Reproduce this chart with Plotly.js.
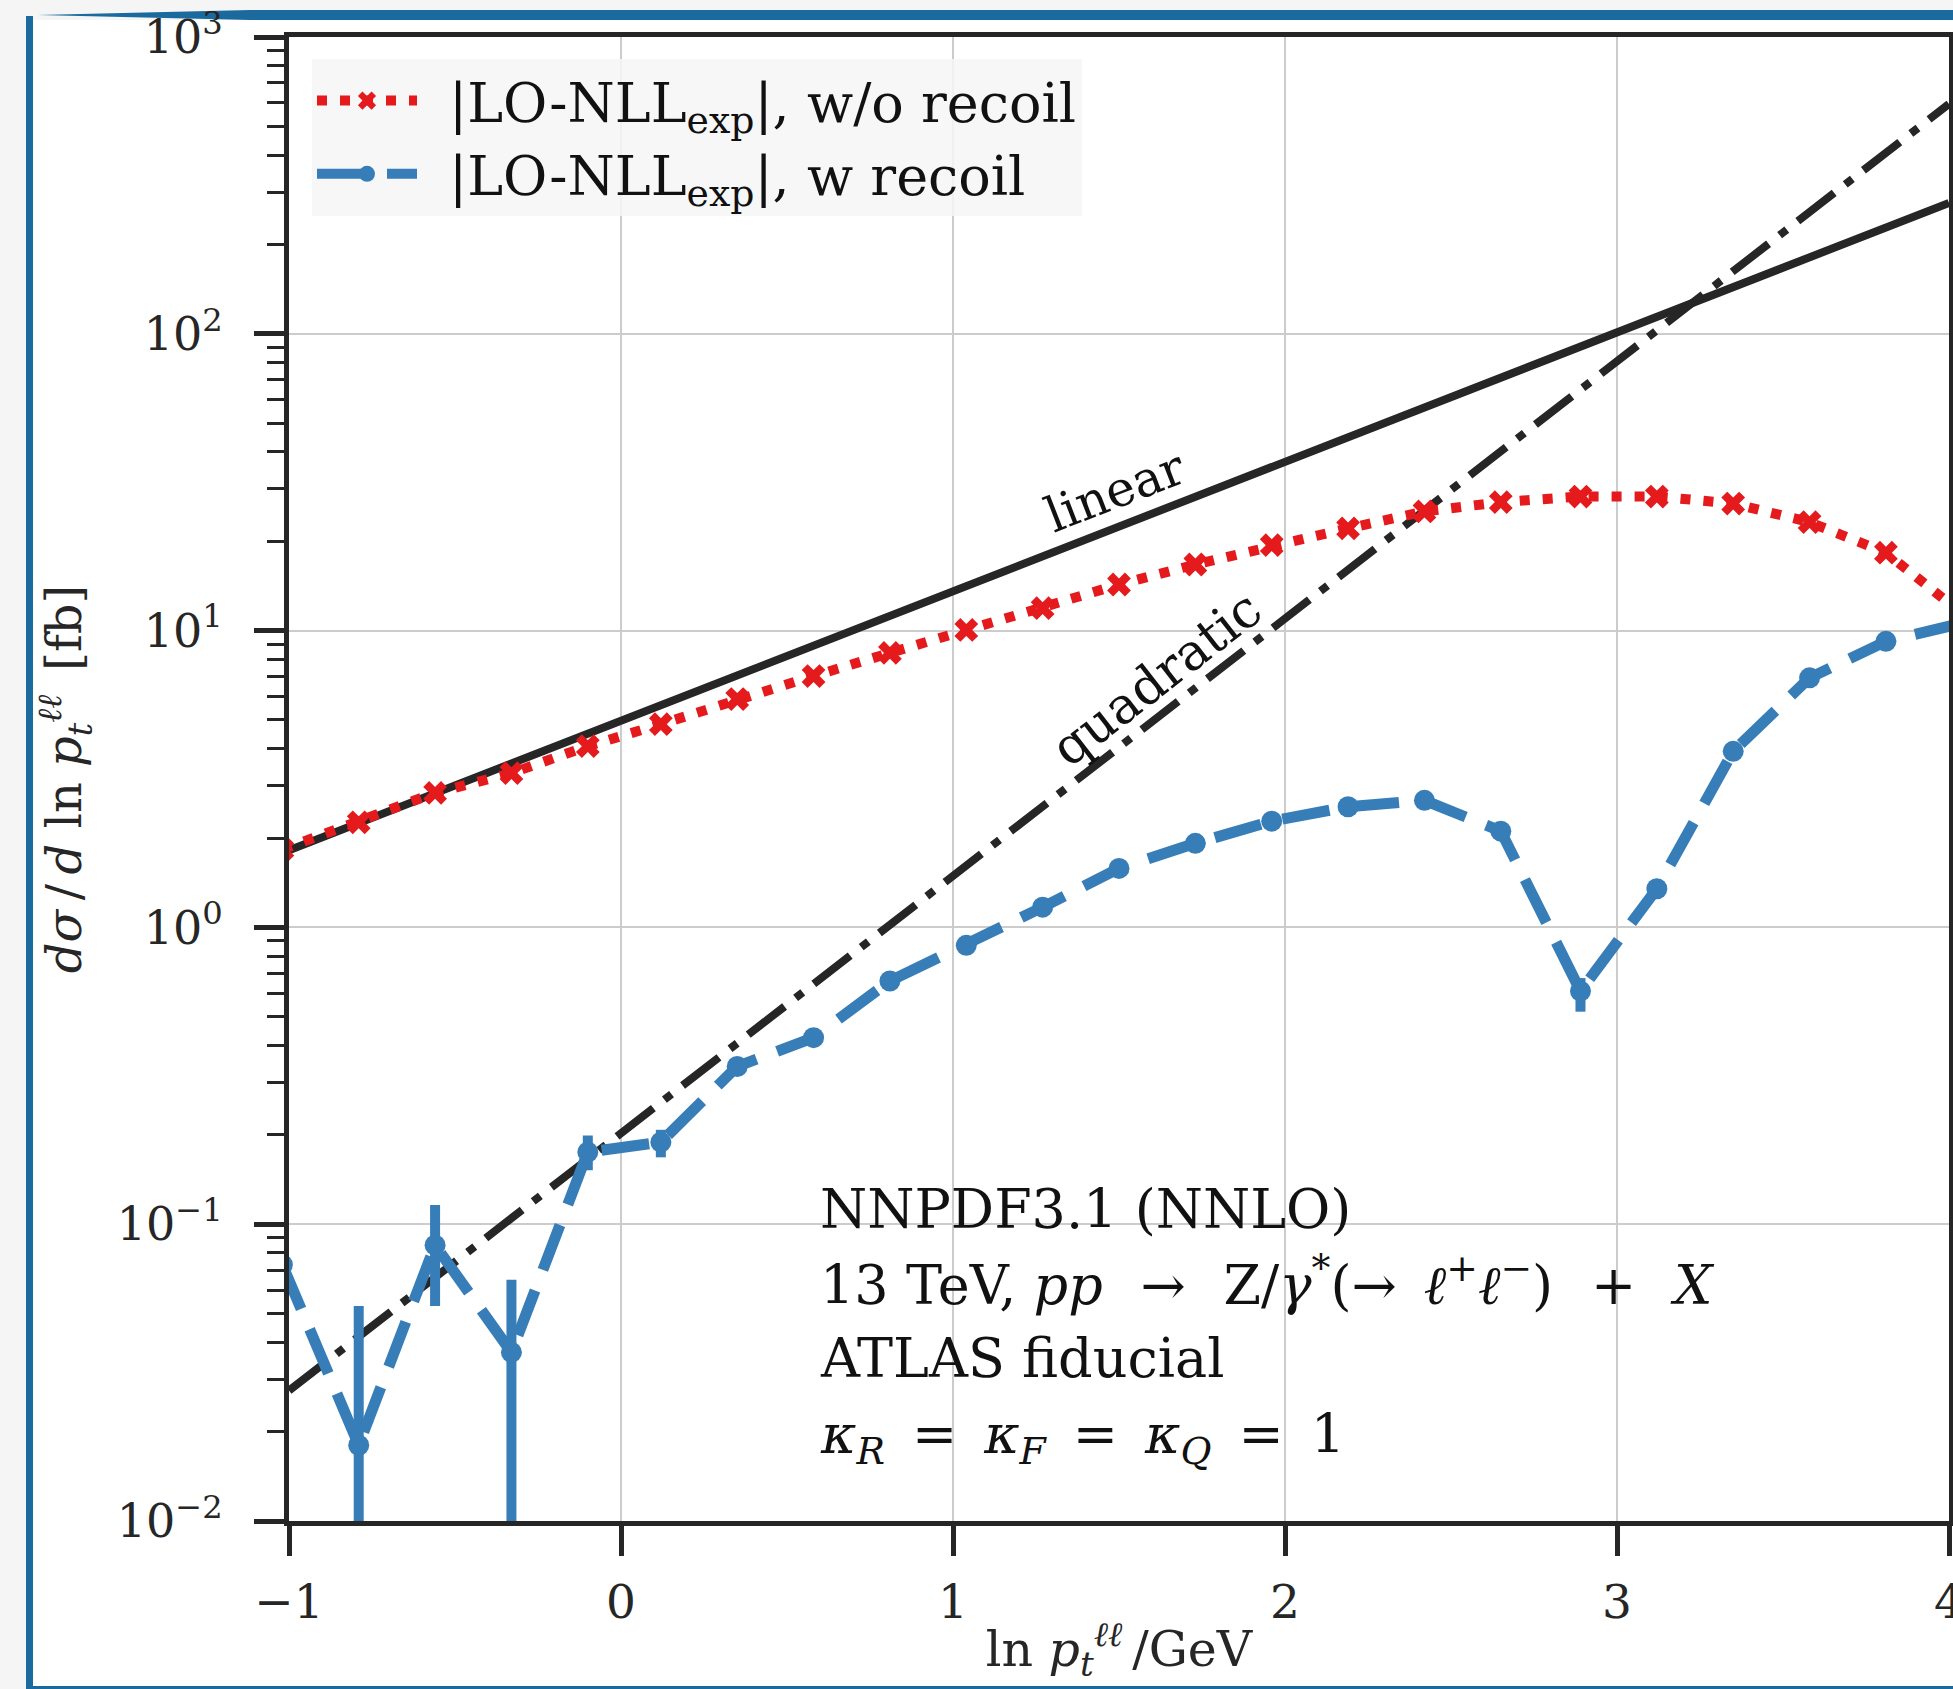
<!DOCTYPE html>
<html>
<head>
<meta charset="utf-8">
<script src="https://cdn.plot.ly/plotly-3.0.1.min.js"></script>
<style>
html,body{margin:0;padding:0;background:#f5f5f5;}
#chart{width:1953px;height:1689px;}
</style>
</head>
<body>
<div id="chart"></div>
<script>
// ---- data ----
const lnPt = [-1.02, -0.79, -0.56, -0.33, -0.10, 0.12, 0.35, 0.58, 0.81, 1.04, 1.27, 1.50,
              1.73, 1.96, 2.19, 2.42, 2.65, 2.89, 3.12, 3.35, 3.58, 3.81, 4.04];
const noRecoil = [1.83, 2.26, 2.84, 3.31, 4.08, 4.84, 5.88, 7.03, 8.41, 10.05, 11.9, 14.3,
                  16.7, 19.4, 22.1, 25.2, 27.1, 28.3, 28.3, 26.8, 23.2, 18.3, 11.4];
const withRecoil = [0.073, 0.018, 0.085, 0.037, 0.175, 0.189, 0.34, 0.425, 0.66, 0.87, 1.17, 1.58,
                    1.92, 2.28, 2.55, 2.68, 2.11, 0.61, 1.35, 3.92, 6.93, 9.2, 10.6];
const withRecoilErrUp = [0.006, 0.035, 0.031, 0.028, 0.024, 0.019, 0.012, 0.012, 0.015, 0.02, 0.02, 0.025,
                         0.03, 0.03, 0.03, 0.03, 0.04, 0.065, 0.04, 0.04, 0.05, 0.05, 0.05];
const withRecoilErrDown = [0.006, 0.035, 0.032, 0.030, 0.023, 0.021, 0.012, 0.012, 0.015, 0.02, 0.02, 0.025,
                           0.03, 0.03, 0.03, 0.03, 0.04, 0.09, 0.04, 0.04, 0.05, 0.05, 0.05];
const linearRefX = [-1, 4];
const linearRefY = [1.82, 276];
const quadraticRefX = [-1, 4];
const quadraticRefY = [0.0275, 595];

const xTickVals = [-1, 0, 1, 2, 3, 4];
const xTickText = ['−1', '0', '1', '2', '3', '4'];
const yTickVals = [0.01, 0.1, 1, 10, 100, 1000];
const yTickText = ['10<sup>−2</sup>', '10<sup>−1</sup>', '10<sup>0</sup>', '10<sup>1</sup>', '10<sup>2</sup>', '10<sup>3</sup>'];
const yMinorVals = [0.02,0.03,0.04,0.05,0.06,0.07,0.08,0.09,
                    0.2,0.3,0.4,0.5,0.6,0.7,0.8,0.9,
                    2,3,4,5,6,7,8,9,
                    20,30,40,50,60,70,80,90,
                    200,300,400,500,600,700,800,900];

const legendNoRecoil = '\u2002|LO-NLL<sub>exp</sub>|, w/o recoil';
const legendWithRecoil = '\u2002|LO-NLL<sub>exp</sub>|, w recoil';
const infoLines = [
  'NNPDF3.1 (NNLO)',
  '13 TeV, <i>pp</i>\u2002\u2009→\u2002\u2009Z/<i>γ</i><sup>*</sup>(→\u2002<i>ℓ</i><sup>+</sup><i>ℓ</i><sup>−</sup>)\u2002\u2009+\u2002\u2009<i>X</i>',
  'ATLAS fiducial',
  '<i>κ</i><sub><i>R</i></sub>\u2002=\u2002<i>κ</i><sub><i>F</i></sub>\u2002=\u2002<i>κ</i><sub><i>Q</i></sub>\u2002=\u20021'
];

// ---- styling ----
const FONT = 'DejaVu Serif, serif';
const INK = '#262626';
const RED = '#e41a1c';
const BLUE = '#377eb8';
const FRAME = '#1b6a9e';

const traces = [
  {x: linearRefX, y: linearRefY, mode: 'lines', showlegend: false, hoverinfo: 'skip',
   line: {color: INK, width: 8}},
  {x: quadraticRefX, y: quadraticRefY, mode: 'lines', showlegend: false, hoverinfo: 'skip',
   line: {color: INK, width: 8, dash: '46px,14px,9px,14px'}},
  {x: lnPt, y: noRecoil, mode: 'lines+markers', name: legendNoRecoil, legendgroup: 'a',
   line: {color: RED, width: 10, dash: '10px,13px'},
   marker: {symbol: 'x', size: 21, color: RED}},
  {x: lnPt, y: withRecoil, mode: 'lines+markers', name: legendWithRecoil, legendgroup: 'b',
   line: {color: BLUE, width: 11, dash: '48px,22px'},
   marker: {symbol: 'circle', size: 21, color: BLUE},
   error_y: {type: 'data', symmetric: false, array: withRecoilErrUp, arrayminus: withRecoilErrDown,
             color: BLUE, thickness: 10, width: 0}}
];

const px2x = p => (p - 289) / 1660;
const py2y = p => (1521 - p) / 1484;

const annotations = [
  {xref: 'x', yref: 'y', x: 1.488, y: 1.467, text: 'linear', showarrow: false, textangle: -21.2,
   xanchor: 'center', yanchor: 'middle', font: {family: FONT, size: 49, color: '#111'}},
  {xref: 'x', yref: 'y', x: 1.613, y: 0.839, text: 'quadratic', showarrow: false, textangle: -37.8,
   xanchor: 'center', yanchor: 'middle', font: {family: FONT, size: 51, color: '#111'}}
];
const infoY = [0.2096, 0.1611, 0.1092, 0.0560];
infoLines.forEach((t, i) => {
  annotations.push({xref: 'paper', yref: 'paper', x: px2x(818), y: infoY[i], text: t, showarrow: false,
    xanchor: 'left', yanchor: 'middle', font: {family: FONT, size: 54, color: '#111'}});
});

const shapes = [
  {type: 'rect', xref: 'paper', yref: 'paper', layer: 'below', line: {width: 0}, fillcolor: '#ffffff',
   x0: px2x(33), x1: px2x(1953), y0: py2y(1686), y1: py2y(20)},
  {type: 'rect', xref: 'paper', yref: 'paper', layer: 'below', line: {width: 0}, fillcolor: FRAME,
   x0: px2x(26), x1: px2x(33), y0: py2y(1689), y1: py2y(16)},
  {type: 'rect', xref: 'paper', yref: 'paper', layer: 'below', line: {width: 0}, fillcolor: FRAME,
   x0: px2x(26), x1: px2x(1953), y0: py2y(1689), y1: py2y(1686)},
  {type: 'path', xref: 'paper', yref: 'paper', layer: 'below', line: {width: 0}, fillcolor: FRAME,
   path: 'M' + px2x(38) + ',' + py2y(15) + ' L' + px2x(250) + ',' + py2y(10) + ' L' + px2x(1953) + ',' + py2y(10) +
         ' L' + px2x(1953) + ',' + py2y(20) + ' L' + px2x(250) + ',' + py2y(20) + ' Z'}
];

const layout = {
  width: 1953, height: 1689,
  margin: {l: 289, r: 4, t: 37, b: 168, pad: 0},
  paper_bgcolor: '#f5f5f5',
  plot_bgcolor: '#ffffff',
  font: {family: FONT, color: INK, size: 46},
  showlegend: true,
  legend: {x: px2x(312), y: py2y(59), xanchor: 'left', yanchor: 'top',
           bgcolor: 'rgba(246,246,246,0.85)', borderwidth: 0, itemwidth: 100,
           tracegroupgap: 0, font: {family: FONT, size: 54, color: '#111'}},
  xaxis: {
    range: [-1, 4], tickmode: 'array', tickvals: xTickVals, ticktext: xTickText,
    ticks: 'outside', ticklen: 30, tickwidth: 5, tickcolor: INK, ticklabelstandoff: 6,
    ticklabeloverflow: 'allow',
    showline: true, linewidth: 5, linecolor: INK, mirror: true,
    showgrid: true, gridcolor: '#cccccc', gridwidth: 2, zeroline: false,
    tickfont: {family: FONT, size: 47, color: INK},
    title: {text: 'ln <i>p</i><sub><i>t</i></sub><sup><i>ℓℓ</i></sup>\u2009/GeV', standoff: 5,
            font: {family: FONT, size: 49, color: INK}}
  },
  yaxis: {
    type: 'log', range: [-2, 3], tickmode: 'array', tickvals: yTickVals, ticktext: yTickText,
    ticks: 'outside', ticklen: 30, tickwidth: 5, tickcolor: INK, ticklabelstandoff: 22,
    minor: {tickmode: 'array', tickvals: yMinorVals, ticks: 'outside', ticklen: 17, tickwidth: 3,
            tickcolor: INK, showgrid: false},
    showline: true, linewidth: 5, linecolor: INK, mirror: true,
    showgrid: true, gridcolor: '#cccccc', gridwidth: 2, zeroline: false,
    tickfont: {family: FONT, size: 46, color: INK},
    title: {text: '<i>dσ</i>\u2009/\u2009<i>d</i> ln <i>p</i><sub><i>t</i></sub><sup><i>ℓℓ</i></sup>\u2002[fb]', standoff: 21,
            font: {family: FONT, size: 48, color: INK}}
  },
  annotations: annotations,
  shapes: shapes
};

Plotly.newPlot('chart', traces, layout, {displayModeBar: false, staticPlot: true});
</script>
</body>
</html>
